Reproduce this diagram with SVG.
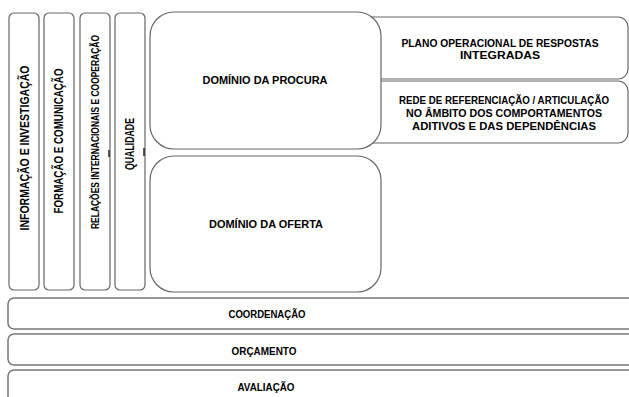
<svg xmlns="http://www.w3.org/2000/svg" width="629" height="397" viewBox="0 0 629 397">
<style>
.b{fill:#fff;stroke:#666;stroke-width:1.2}
.bb{fill:#fff;stroke:#777;stroke-width:1.5}
.t{font-family:"Liberation Sans",Arial,sans-serif;font-weight:bold;font-size:11.5px;fill:#000;text-anchor:middle}
.v{font-size:12px}
.s{font-size:10.5px}
.r{font-size:10px}
.tick{stroke:#222;stroke-width:1.5}
</style>
<rect width="629" height="397" fill="#fff"/>
<g id="plano">
<rect class="b" x="360" y="17" width="268" height="62" rx="10"/>
<text class="t" x="500" y="47" textLength="197" lengthAdjust="spacingAndGlyphs">PLANO OPERACIONAL DE RESPOSTAS</text>
<text class="t" x="500" y="59" textLength="80" lengthAdjust="spacingAndGlyphs">INTEGRADAS</text>
</g>
<g id="rede">
<rect class="b" x="360" y="81" width="268" height="62" rx="10"/>
<text class="t s" x="504" y="104" textLength="210" lengthAdjust="spacingAndGlyphs">REDE DE REFERENCIAÇÃO / ARTICULAÇÃO</text>
<text class="t" x="504" y="117" textLength="196" lengthAdjust="spacingAndGlyphs">NO ÂMBITO DOS COMPORTAMENTOS</text>
<text class="t" x="504" y="130" textLength="184" lengthAdjust="spacingAndGlyphs">ADITIVOS E DAS DEPENDÊNCIAS</text>
</g>
<g id="info">
<rect class="b" x="9" y="13" width="30" height="277" rx="5"/>
<text class="t v" transform="translate(29,148) rotate(-90)" textLength="165" lengthAdjust="spacingAndGlyphs">INFORMAÇÃO E INVESTIGAÇÃO</text>
</g>
<g id="formacao">
<rect class="b" x="44" y="13" width="30" height="277" rx="5"/>
<text class="t v" transform="translate(63,141) rotate(-90)" textLength="145" lengthAdjust="spacingAndGlyphs">FORMAÇÃO E COMUNICAÇÃO</text>
</g>
<g id="relacoes">
<rect class="b" x="80" y="13" width="30" height="277" rx="5"/>
<text class="t r" transform="translate(99,132) rotate(-90)" textLength="194" lengthAdjust="spacingAndGlyphs">RELAÇÕES INTERNACIONAIS E COOPERAÇÃO</text>
</g>
<g id="qualidade">
<rect class="b" x="115" y="13" width="30" height="277" rx="5"/>
<text class="t v" transform="translate(134,144) rotate(-90)" textLength="52" lengthAdjust="spacingAndGlyphs">QUALIDADE</text>
</g>
<g id="procura">
<rect class="b" x="150" y="12" width="231" height="137" rx="24"/>
<text class="t" x="265" y="84" textLength="125" lengthAdjust="spacingAndGlyphs">DOMÍNIO DA PROCURA</text>
</g>
<g id="oferta">
<rect class="b" x="150" y="156" width="231" height="136" rx="24"/>
<text class="t" x="266" y="228" textLength="114" lengthAdjust="spacingAndGlyphs">DOMÍNIO DA OFERTA</text>
</g>
<g id="connectors">
<line class="tick" x1="109" y1="150" x2="109" y2="157"/>
<line class="tick" x1="144" y1="148" x2="144" y2="156"/>
</g>
<g id="coordenacao">
<rect class="bb" x="8" y="298" width="630" height="31" rx="6"/>
<text class="t" x="267" y="318" textLength="77" lengthAdjust="spacingAndGlyphs">COORDENAÇÃO</text>
</g>
<g id="orcamento">
<rect class="bb" x="8" y="334" width="630" height="31" rx="6"/>
<text class="t" x="264" y="355" textLength="65" lengthAdjust="spacingAndGlyphs">ORÇAMENTO</text>
</g>
<g id="avaliacao">
<rect class="bb" x="8" y="370" width="630" height="40" rx="6"/>
<text class="t" x="266" y="391" textLength="57" lengthAdjust="spacingAndGlyphs">AVALIAÇÃO</text>
</g>
</svg>
